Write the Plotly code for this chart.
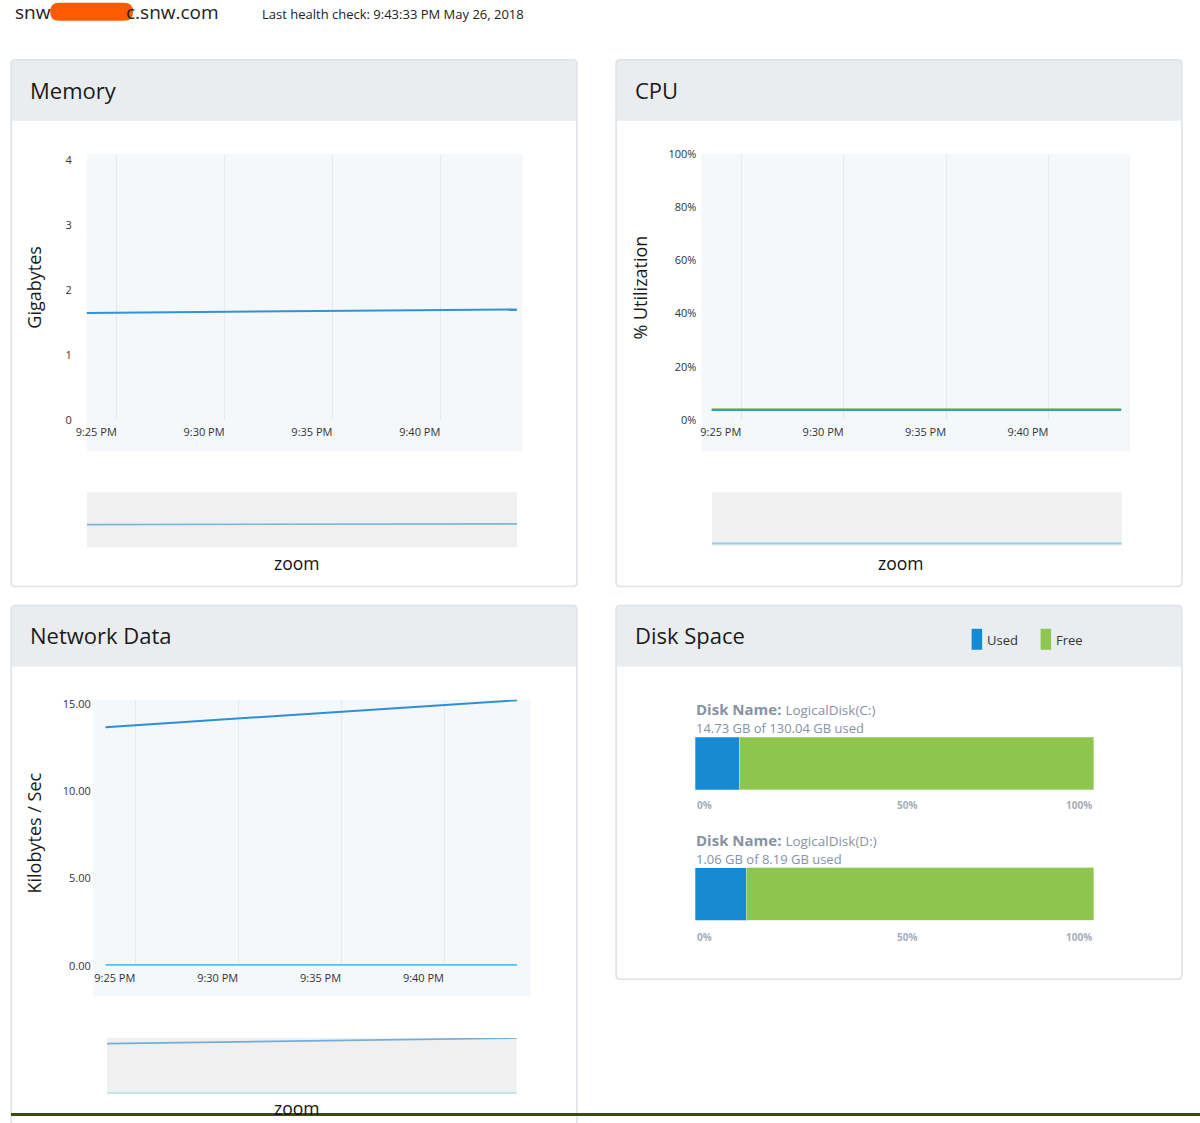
import plotly.graph_objects as go
import pandas as pd

W, H = 1200, 1123
FONT = "Open Sans"
# measured placement of the figure inside the photographed page (offset and scale)
OX, OY, SX, SY = 10.9, 7.3, 0.991, 0.987

# ---------------- data ----------------
times = ["2018-05-26 21:23:33", "2018-05-26 21:28:33", "2018-05-26 21:33:33",
         "2018-05-26 21:38:33", "2018-05-26 21:43:33"]
memory_gb = [1.646, 1.660, 1.675, 1.690, 1.700]
cpu_series_a = [4.0, 4.0, 4.0, 4.0, 4.0]
cpu_series_b = [3.7, 3.7, 3.7, 3.7, 3.7]
net_series_a = [13.66, 14.05, 14.43, 14.80, 15.20]
net_series_b = [0.02, 0.02, 0.02, 0.02, 0.02]
mem_ticks = [0, 1, 2, 3, 4]
cpu_ticks = [0, 20, 40, 60, 80, 100]
net_ticks = [0, 5, 10, 15]
disk_names = ["LogicalDisk(C:)", "LogicalDisk(D:)"]
disk_used_gb = [14.73, 1.06]
disk_total_gb = [130.04, 8.19]
disk_tick_vals = [0, 50, 100]
disk_tick_text = ["0%", "50%", "100%"]
host_left = "snw"
host_right = "c.snw.com"
health_text = "Last health check: 9:43:33 PM May 26, 2018"


# ---------------- helpers ----------------
def X(p):
    return ((p - OX) / SX) / W


def Y(p):
    return 1 - ((p - OY) / SY) / H


def time_range(x0, x1, g25, g40):
    t25 = pd.Timestamp("2018-05-26 21:25:00")
    sec = 900.0 / (g40 - g25)
    a = t25 + pd.Timedelta(seconds=(x0 - g25) * sec)
    b = t25 + pd.Timedelta(seconds=(x1 - g25) * sec)
    return [a.strftime("%Y-%m-%d %H:%M:%S.%f")[:-3], b.strftime("%Y-%m-%d %H:%M:%S.%f")[:-3]]


def rpath(x0, y0, x1, y1, rt, rb):
    pts = []
    pts.append(f"M{X(x0 + rt)},{Y(y0)}")
    pts.append(f"L{X(x1 - rt)},{Y(y0)}")
    pts.append(f"Q{X(x1)},{Y(y0)} {X(x1)},{Y(y0 + rt)}")
    pts.append(f"L{X(x1)},{Y(y1 - rb)}")
    pts.append(f"Q{X(x1)},{Y(y1)} {X(x1 - rb)},{Y(y1)}")
    pts.append(f"L{X(x0 + rb)},{Y(y1)}")
    pts.append(f"Q{X(x0)},{Y(y1)} {X(x0)},{Y(y1 - rb)}")
    pts.append(f"L{X(x0)},{Y(y0 + rt)}")
    pts.append(f"Q{X(x0)},{Y(y0)} {X(x0 + rt)},{Y(y0)}")
    return " ".join(pts) + " Z"


def time_axis(x0, x1, g25, g40, anchor):
    return dict(domain=[X(x0), X(x1)], range=time_range(x0, x1, g25, g40), type="date",
                anchor=anchor, tick0="2018-05-26 21:25:00", dtick=300000,
                tickformat="%-I:%M %p", showgrid=True, gridcolor="#e7eaed", gridwidth=1,
                zeroline=False, showline=False, ticks="", ticklabelposition="outside left",
                ticklabelstandoff=4, tickfont=dict(family=FONT, size=11, color="#333333"),
                fixedrange=True)


def hidden_axis(dom, rng, anchor, **kw):
    d = dict(domain=dom, range=rng, anchor=anchor, visible=False, fixedrange=True)
    d.update(kw)
    return d


fig = go.Figure()

# ---------------- traces ----------------
fig.add_trace(go.Scatter(x=times, y=memory_gb, mode="lines", line=dict(color="#3292d6", width=2),
                         xaxis="x", yaxis="y", hoverinfo="skip"))
fig.add_trace(go.Scatter(x=times, y=memory_gb, mode="lines", line=dict(color="#7ab5e0", width=1.6),
                         xaxis="x2", yaxis="y2", hoverinfo="skip"))

fig.add_trace(go.Scatter(x=times, y=cpu_series_a, mode="lines", line=dict(color="#8cc44a", width=2),
                         xaxis="x3", yaxis="y3", hoverinfo="skip"))
fig.add_trace(go.Scatter(x=times, y=cpu_series_b, mode="lines", line=dict(color="#27a2d8", width=2.2),
                         xaxis="x3", yaxis="y3", hoverinfo="skip"))
fig.add_trace(go.Scatter(x=times, y=cpu_series_b, mode="lines", line=dict(color="#8dd0ec", width=2),
                         xaxis="x4", yaxis="y4", hoverinfo="skip"))

fig.add_trace(go.Scatter(x=times, y=net_series_a, mode="lines", line=dict(color="#2f8fd4", width=2),
                         xaxis="x5", yaxis="y5", hoverinfo="skip"))
fig.add_trace(go.Scatter(x=times, y=net_series_b, mode="lines", line=dict(color="#4cc4f6", width=2.5),
                         xaxis="x5", yaxis="y5", hoverinfo="skip"))
fig.add_trace(go.Scatter(x=times, y=net_series_a, mode="lines", line=dict(color="#72aed9", width=1.6),
                         xaxis="x6", yaxis="y6", hoverinfo="skip"))
fig.add_trace(go.Scatter(x=times, y=net_series_b, mode="lines", line=dict(color="#93d4f0", width=2),
                         xaxis="x6", yaxis="y6", hoverinfo="skip"))

used_pct = [u / t * 100 for u, t in zip(disk_used_gb, disk_total_gb)]
for i, (name, up) in enumerate(zip(disk_names, used_pct)):
    xa, ya = f"x{7 + i}", f"y{7 + i}"
    fig.add_trace(go.Bar(x=[up], y=[name], orientation="h", marker=dict(color="#1589d1", line_width=0),
                         xaxis=xa, yaxis=ya, hoverinfo="skip"))
    fig.add_trace(go.Bar(x=[100 - up], y=[name], orientation="h",
                         marker=dict(color="#8dc54e", line=dict(color="#b9dc92", width=1)),
                         xaxis=xa, yaxis=ya, hoverinfo="skip"))

# ---------------- axes ----------------
tickfont = dict(family=FONT, size=11, color="#333333")
layout_axes = {}
layout_axes["xaxis"] = time_axis(86.7, 522.3, 116.7, 440.3, "y")
layout_axes["yaxis"] = dict(domain=[Y(419.3), Y(153.3)], range=[0, 4 + 6 / 65], anchor="x",
                            tickvals=mem_ticks, showgrid=False, zeroline=False, showline=False,
                            ticks="", ticklabelstandoff=14, tickfont=tickfont, fixedrange=True)
layout_axes["xaxis2"] = hidden_axis([X(86.8), X(517)], [times[0], times[-1]], "y2", type="date")
layout_axes["yaxis2"] = hidden_axis([Y(546.7), Y(491.7)], [0, 4], "x2")
layout_axes["xaxis3"] = time_axis(701.4, 1130, 741.4, 1048.6, "y3")
layout_axes["yaxis3"] = dict(domain=[Y(419.3), Y(153.3)], range=[0, 100], anchor="x3",
                             tickvals=cpu_ticks, ticktext=[f"{v}%" for v in cpu_ticks],
                             showgrid=False, zeroline=False,
                             showline=False, ticks="", ticklabelstandoff=4, tickfont=tickfont,
                             fixedrange=True)
layout_axes["xaxis4"] = hidden_axis([X(712), X(1121.8)], [times[0], times[-1]], "y4", type="date")
layout_axes["yaxis4"] = hidden_axis([Y(545), Y(491.7)], [0, 100], "x4")
layout_axes["xaxis5"] = time_axis(92.7, 531, 135.3, 444, "y5")
layout_axes["yaxis5"] = dict(domain=[Y(965.3), Y(699.3)], range=[0, 15 + 4 / 17.47], anchor="x5",
                             tickvals=net_ticks, ticktext=[f"{v:.2f}" for v in net_ticks],
                             showgrid=False, zeroline=False,
                             showline=False, ticks="", ticklabelstandoff=1, tickfont=tickfont,
                             fixedrange=True)
layout_axes["xaxis6"] = hidden_axis([X(107), X(516.8)], [times[0], times[-1]], "y6", type="date")
layout_axes["yaxis6"] = hidden_axis([Y(1093.3), Y(1037.7)], [0, 15.2], "x6")
bar_rows = [(736.7, 789.3), (867.3, 920)]
for i, (t0, t1) in enumerate(bar_rows):
    layout_axes[f"xaxis{7 + i}"] = hidden_axis([X(695.3), X(1094.3)], [0, 100], f"y{7 + i}")
    layout_axes[f"yaxis{7 + i}"] = hidden_axis([Y(t1), Y(t0)], [-0.5, 0.5], f"x{7 + i}",
                                               type="category")

# ---------------- shapes ----------------
shapes = []
HEADER = "#eaedf0"
BORDER = "#dde3e8"
panels = [(11, 59, 577, 586), (616, 59, 1182, 586), (11, 605, 577, 1140), (616, 605, 1182, 979)]
for (x0, y0, x1, y1) in panels:
    shapes.append(dict(type="path", path=rpath(x0, y0, x1, y1, 4, 4), xref="paper", yref="paper",
                       fillcolor=HEADER, line=dict(color=BORDER, width=1.5), layer="below"))
    shapes.append(dict(type="path", path=rpath(x0 + 1, y0 + 61, x1 - 1, y1 - 1, 0, 3), xref="paper",
                       yref="paper", fillcolor="white", line=dict(width=0), layer="below"))
for (x0, y0, x1, y1) in [(86.7, 153.3, 522.3, 450.7), (701.4, 153.3, 1130, 450.7), (92.7, 699.3, 531, 996)]:
    shapes.append(dict(type="rect", xref="paper", yref="paper", x0=X(x0), x1=X(x1), y0=Y(y1), y1=Y(y0),
                       fillcolor="#f5f8fb", line=dict(width=0), layer="below"))
for (x0, y0, x1, y1) in [(86.8, 491.7, 517, 546.7), (712, 491.7, 1121.8, 545), (107, 1037.7, 516.8, 1093.3)]:
    shapes.append(dict(type="rect", xref="paper", yref="paper", x0=X(x0), x1=X(x1), y0=Y(y1), y1=Y(y0),
                       fillcolor="#f0f0f0", line=dict(width=0), layer="below"))
for (x0, col) in [(971.7, "#1589d1"), (1040.7, "#8dc54e")]:
    shapes.append(dict(type="rect", xref="paper", yref="paper", x0=X(x0), x1=X(x0 + 10.5), y0=Y(649.3),
                       y1=Y(628.3), fillcolor=col, line=dict(width=0), layer="below"))
shapes.append(dict(type="path", path=rpath(50, 2, 133, 20, 9, 9), xref="paper", yref="paper",
                   fillcolor="#ff5a00", line=dict(width=0), layer="above"))
shapes.append(dict(type="rect", xref="paper", yref="paper", x0=0, x1=1, y0=0, y1=Y(1112.8),
                   fillcolor="#3a4a10", line=dict(width=0), layer="above"))

# ---------------- annotations ----------------
ann = []


def text(x, y, s, size, color="#1a1a1a", xanchor="left", angle=0):
    ann.append(dict(x=X(x), y=Y(y), xref="paper", yref="paper", text=s,
                    showarrow=False, xanchor=xanchor, yanchor="middle", textangle=angle,
                    font=dict(family=FONT, size=size, color=color)))


text(13, 11, host_left, 19, "#222222")
text(221, 11, host_right, 19, "#222222", xanchor="right")
text(260, 13, health_text, 13, "#222222")
text(28, 89, "Memory", 22)
text(633, 89, "CPU", 22)
text(28, 635, "Network Data", 22)
text(633, 635, "Disk Space", 22)
text(34, 287, "Gigabytes", 18, xanchor="center", angle=-90)
text(640, 287, "% Utilization", 18, xanchor="center", angle=-90)
text(34, 833, "Kilobytes / Sec", 18, xanchor="center", angle=-90)
text(296, 563, "zoom", 17.5, "#111111", xanchor="center")
text(901, 563, "zoom", 17.5, "#111111", xanchor="center")
text(296, 1108, "zoom", 17.5, "#111111", xanchor="center")
text(985, 639.3, "Used", 13, "#333333")
text(1054, 639.3, "Free", 13, "#333333")

name_y = [708.3, 840]
used_y = [727.7, 859]
tick_y = [805, 936.7]
for i, (name, u, t) in enumerate(zip(disk_names, disk_used_gb, disk_total_gb)):
    text(694, name_y[i],
         f"<b>Disk Name:</b> <span style='font-size:13.5px'>{name}</span>", 15, "#8792a5")
    text(694, used_y[i], f"{u:.2f} GB of {t:.2f} GB used", 13, "#8792a5")
    for v, lab in zip(disk_tick_vals, disk_tick_text):
        ann.append(dict(x=v, y=Y(tick_y[i]), xref=f"x{7 + i}", yref="paper", text=f"<b>{lab}</b>",
                        showarrow=False, xanchor="right" if v == 100 else "left", yanchor="middle",
                        font=dict(family=FONT, size=10, color="#a3adbd")))

fig.update_layout(
    width=W, height=H, autosize=False, margin=dict(l=0, r=0, t=0, b=0, pad=0),
    paper_bgcolor="white", plot_bgcolor="rgba(0,0,0,0)",
    showlegend=False, barmode="stack", bargap=0,
    shapes=shapes, annotations=ann, font=dict(family=FONT),
    **layout_axes,
)

fig.write_html("out.html", config={"displayModeBar": False},
               post_script="document.body.style.margin='0px';document.body.style.padding='0px';")
